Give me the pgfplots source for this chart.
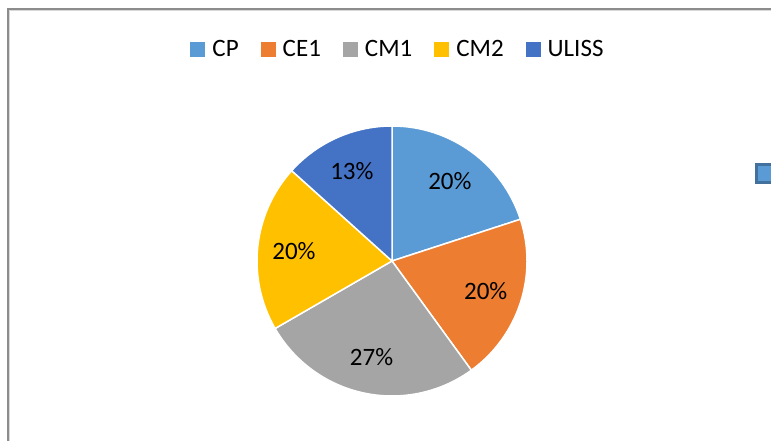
\documentclass[border=0pt]{standalone}
\usepackage{pgfplots}
\pgfplotsset{compat=1.18}
\usepackage{pgfplotstable}
\usepackage{fontspec}
\setmainfont{Carlito}
\definecolor{cCP}{HTML}{5B9BD5}
\definecolor{cCE}{HTML}{ED7D31}
\definecolor{cCMa}{HTML}{A5A5A5}
\definecolor{cCMb}{HTML}{FFC000}
\definecolor{cUL}{HTML}{4472C4}
\definecolor{frameDark}{HTML}{8C8C8C}
\definecolor{frameLight}{HTML}{D9D9D9}
\definecolor{selEdge}{HTML}{41719C}

\pgfplotstableread[col sep=comma]{
name,count,color
CP,3,cCP
CE1,3,cCE
CM1,4,cCMa
CM2,3,cCMb
ULISS,2,cUL
}\piedata

\begin{document}%
\begin{tikzpicture}[font=\fontsize{25}{30}\selectfont]
% cumulative angles from the table
\def\pietotal{0}
\pgfplotsforeachungrouped \i in {0,...,4}{%
  \pgfplotstablegetelem{\i}{count}\of\piedata
  \pgfmathsetmacro\pietotal{\pietotal+\pgfplotsretval}%
}
\def\piecum{0}
\pgfplotsforeachungrouped \i in {0,...,4}{%
  \pgfplotstablegetelem{\i}{count}\of\piedata
  \let\pieval\pgfplotsretval
  \pgfplotstablegetelem{\i}{color}\of\piedata
  \expandafter\xdef\csname pieC\i\endcsname{\pgfplotsretval}%
  \pgfplotstablegetelem{\i}{name}\of\piedata
  \expandafter\xdef\csname pieN\i\endcsname{\pgfplotsretval}%
  \pgfmathsetmacro\pa{\piecum/\pietotal*360}%
  \pgfmathsetmacro\piecumn{\piecum+\pieval}%
  \pgfmathsetmacro\pb{\piecumn/\pietotal*360}%
  \pgfmathsetmacro\pm{(\pa+\pb)/2}%
  \pgfmathtruncatemacro\pp{round(100*\pieval/\pietotal)}%
  \expandafter\xdef\csname pieA\i\endcsname{\pa}%
  \expandafter\xdef\csname pieB\i\endcsname{\pb}%
  \expandafter\xdef\csname pieM\i\endcsname{\pm}%
  \expandafter\xdef\csname pieP\i\endcsname{\pp}%
  \global\let\piecum\piecumn
}%
\useasboundingbox (0,0) rectangle (771pt,441pt);
\clip (0,0) rectangle (771pt,441pt);
% chart frame (partly cropped)
\draw[frameDark, line width=2pt] (8pt,-5pt) -- (8pt,432pt) -- (780pt,432pt);
\draw[frameLight, line width=1pt] (9.5pt,-5pt) -- (9.5pt,430.5pt) -- (780pt,430.5pt);
% cropped element at the right edge
\draw[selEdge, fill=cCP, line width=3pt] (756pt,258pt) rectangle (780pt,276pt);
\begin{axis}[
  at={(392pt,180pt)}, anchor=center,
  x=135pt, y=135pt, xmin=-1, xmax=1, ymin=-1, ymax=1,
  scale only axis, hide axis, clip=false,
  legend columns=5,
  legend image code/.code={\fill[#1] (0pt,-7.5pt) rectangle (15pt,7.5pt);},
  legend style={draw=none, fill=none, inner sep=0pt,
    at={(0.5,1)}, anchor=center, xshift=5pt, yshift=76.5pt,
    font=\fontsize{25}{30}\selectfont,
    nodes={inner sep=0pt},
    /tikz/every odd column/.append style={column sep=7pt},
    /tikz/every even column/.append style={column sep=22pt}},
]
\pgfplotsinvokeforeach{0,...,4}{%
  \edef\temp{\noexpand\fill[fill=\csname pieC#1\endcsname, draw=white, line width=1.5pt]
    (axis cs:0,0) -- (axis cs:{sin(\csname pieA#1\endcsname)},{cos(\csname pieA#1\endcsname)})
    arc[start angle={90-\csname pieA#1\endcsname}, end angle={90-\csname pieB#1\endcsname}, radius=135pt] -- cycle;}%
  \temp
}
\pgfplotsinvokeforeach{0,...,4}{%
  \edef\temp{\noexpand\node[inner sep=0pt] at (axis cs:{0.73*sin(\csname pieM#1\endcsname)},{0.73*cos(\csname pieM#1\endcsname)}) {\csname pieP#1\endcsname\noexpand\%};}%
  \temp
}
\pgfplotsinvokeforeach{0,...,4}{%
  \edef\temp{\noexpand\addlegendimage{fill=\csname pieC#1\endcsname, draw=none}\noexpand\addlegendentry{\csname pieN#1\endcsname}}%
  \temp
}
\end{axis}
\end{tikzpicture}%
\end{document}
